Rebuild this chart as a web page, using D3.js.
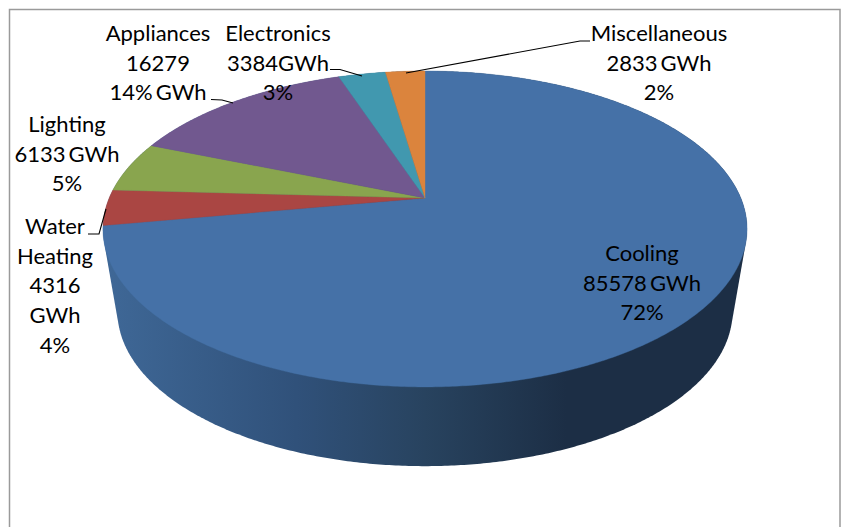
<!DOCTYPE html>
<html>
<head>
<meta charset="utf-8">
<script src="https://cdn.jsdelivr.net/npm/d3@7/dist/d3.min.js"></script>
<style>
html, body { margin: 0; padding: 0; background: #fff; overflow: hidden; }
svg { display: block; }
text { font-family: Lato, "Open Sans", sans-serif; font-size: 22px; word-spacing: -2.5px; fill: #000; }
</style>
</head>
<body>
<svg id="chart" width="841" height="527"></svg>
<script>
// Annual household electricity use by end use, in GWh
const categories = ["Cooling", "Water Heating", "Lighting", "Appliances", "Electronics", "Miscellaneous"];
const gwh = [85578, 4316, 6133, 16279, 3384, 2833];
const sliceColors = ["#4571a7", "#aa4643", "#89a54e", "#71588f", "#4198af", "#db843d"];

// Label text, one entry per line, with each block's anchor and first baseline
const labelLines = [
  ["Cooling", "85578 GWh", "72%"],
  ["Water", "Heating", "4316", "GWh", "4%"],
  ["Lighting", "6133 GWh", "5%"],
  ["Appliances", "16279", "14% GWh"],
  ["Electronics", "3384GWh", "3%"],
  ["Miscellaneous", "2833 GWh", "2%"]
];
const labelX = [642, 55, 67, 158, 278, 659];
const labelY = [261, 234, 132, 41, 41, 41];
const labelStep = [29.5, 29.7, 29.5, 29.5, 29.5, 29.5];

// Leader lines from labels to their slices
const leaders = [
  [[88, 234], [99, 234], [106, 209]],
  [[211, 99.5], [222, 100], [233, 103]],
  [[330, 69.5], [340, 69.5], [362, 76]],
  [[590, 41], [580, 41], [406, 73]]
];

const svg = d3.select("#chart");
const centerX = 425;
const apexY = 198;      // where the slices meet on the top face
const tilt = 0.196;     // perspective strength of the tilted disc
const scaleX = 315.8;
const scaleY = 151.9;

// Projects a pie angle (clockwise from 12 o'clock) onto the tilted disc.
function project(angle, sx = 1, sy = 1, originY = apexY) {
  const u = Math.sin(angle), v = Math.cos(angle);
  const w = 1 + tilt * v;
  return [centerX + sx * scaleX * u / w, originY - sy * scaleY * v / w];
}

const line = d3.line();
const step = Math.PI / 360;

// Frame
svg.append("rect")
  .attr("x", 9.5).attr("y", 9.5)
  .attr("width", 830.5).attr("height", 540)
  .attr("fill", "#fff").attr("stroke", "#9a9a9a").attr("stroke-width", 1.5);

// Side wall: hull of the top rim and the lower rim, shaded left to right
const defs = svg.append("defs");
const wallGradient = defs.append("linearGradient")
  .attr("id", "wall").attr("gradientUnits", "userSpaceOnUse")
  .attr("x1", 103).attr("x2", 747).attr("y1", 0).attr("y2", 0);
[[0, "#3f6897"], [0.3, "#30517a"], [0.5, "#28435f"], [0.72, "#1c2e45"], [1, "#1c2e45"]]
  .forEach(([o, c]) => wallGradient.append("stop").attr("offset", o).attr("stop-color", c));

const sweep = d3.range(0, 2 * Math.PI, step);
const rimPoints = sweep.map(a => project(a))
  .concat(sweep.map(a => project(a, 0.955, 0.98, 281)));
svg.append("path")
  .attr("d", line(d3.polygonHull(rimPoints)) + "Z")
  .attr("fill", "url(#wall)");

// Top face
const arcs = d3.pie().sort(null).startAngle(0).endAngle(2 * Math.PI)(gwh);
svg.append("g").selectAll("path").data(arcs).join("path")
  .attr("d", d => {
    const angles = d3.range(d.startAngle, d.endAngle, step).concat(d.endAngle);
    return line([[centerX, apexY], ...angles.map(a => project(a))]) + "Z";
  })
  .attr("fill", (d, i) => sliceColors[i])
  .attr("stroke", (d, i) => sliceColors[i])
  .attr("stroke-width", 0.4);

// Leader lines
svg.append("g").selectAll("path").data(leaders).join("path")
  .attr("d", d => line(d))
  .attr("fill", "none").attr("stroke", "#000").attr("stroke-width", 1.1);

// Labels
svg.append("g").selectAll("text").data(categories).join("text")
  .attr("text-anchor", "middle")
  .attr("aria-label", d => d)
  .each(function (d, i) {
    d3.select(this).selectAll("tspan").data(labelLines[i]).join("tspan")
      .attr("x", labelX[i])
      .attr("y", (t, j) => labelY[i] + j * labelStep[i])
      .text(t => t);
  });
</script>
</body>
</html>
